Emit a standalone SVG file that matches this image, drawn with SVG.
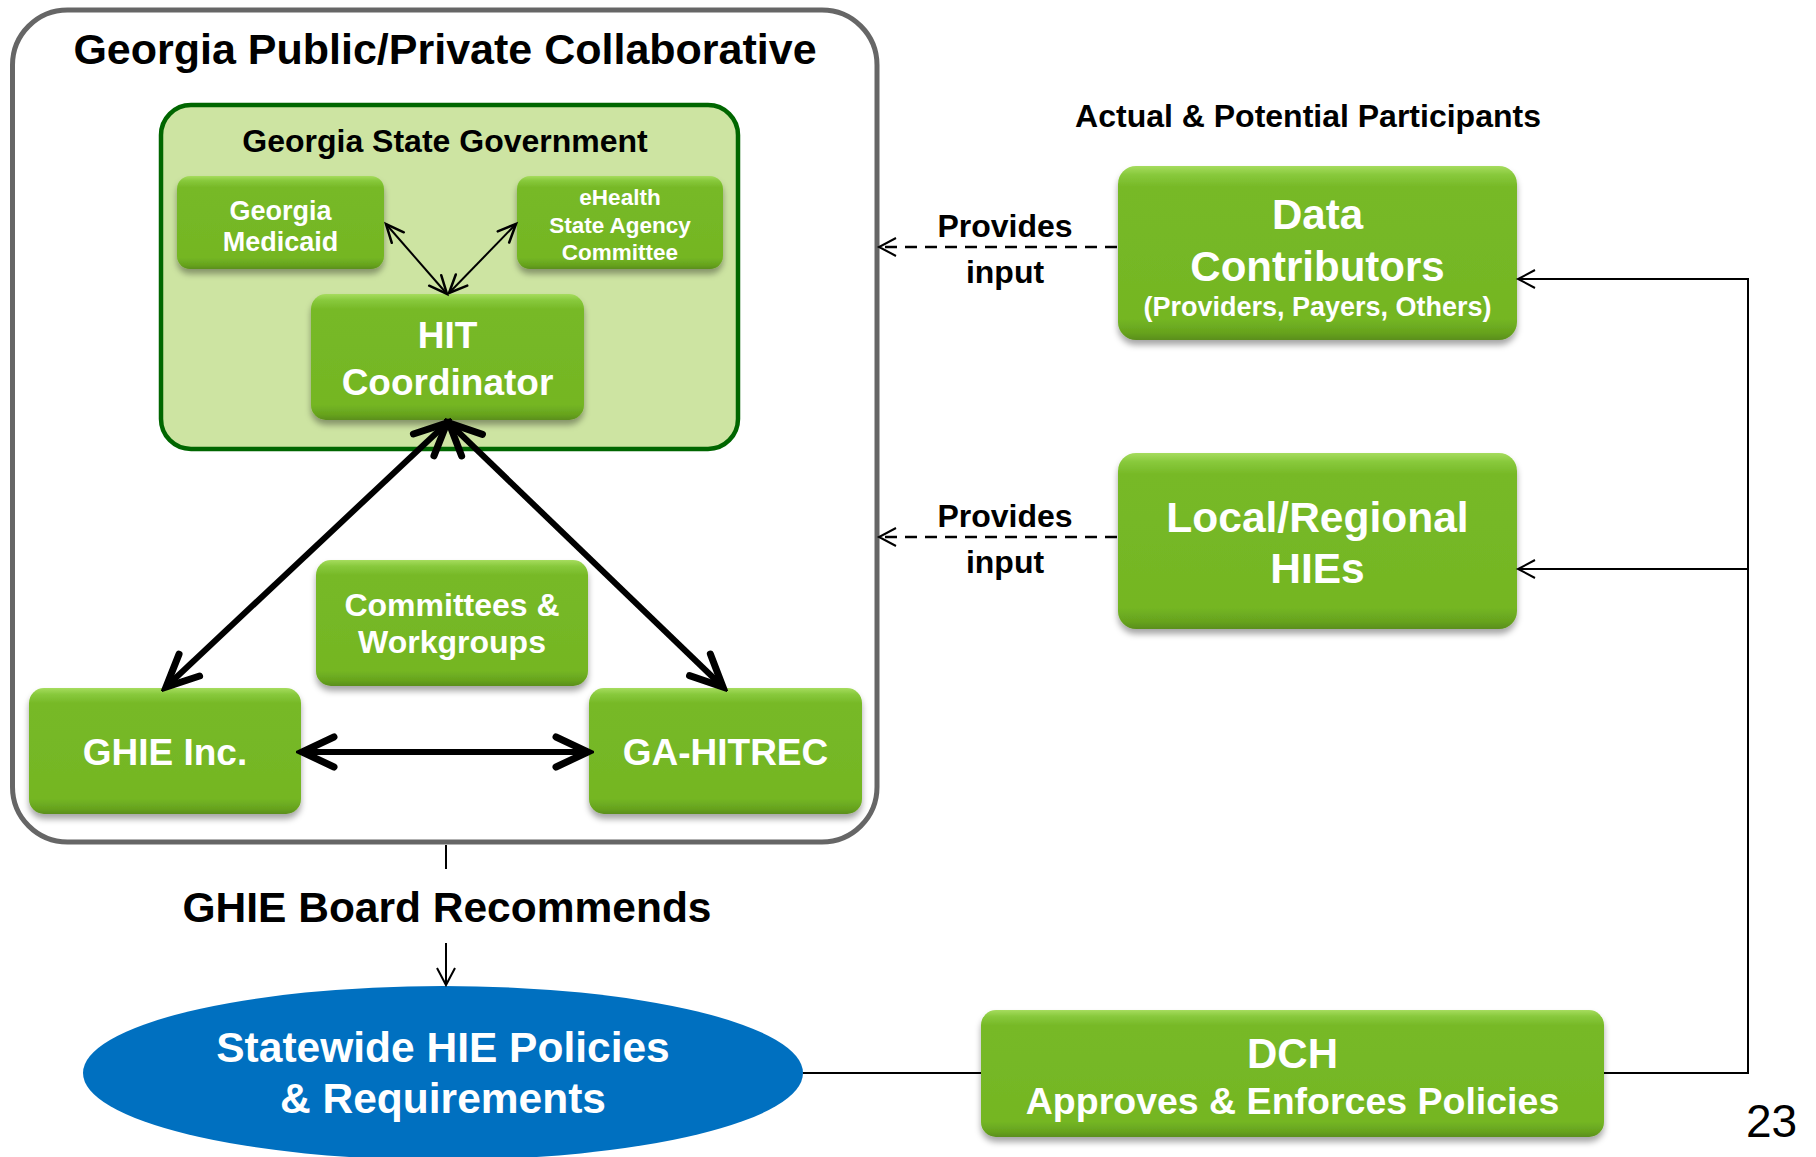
<svg xmlns="http://www.w3.org/2000/svg" width="1816" height="1157" viewBox="0 0 1816 1157">
<style>
  text { font-family: "Liberation Sans", Arial, sans-serif; font-weight: bold; text-anchor: middle; }
  .w { fill: #ffffff; }
  .k { fill: #000000; }
  .gbox { fill: url(#gg); filter: url(#sh); }
  .thin { fill: none; stroke: #000; stroke-width: 2; }
  .thick { fill: none; stroke: #000; stroke-width: 6; }
  .dash { fill: none; stroke: #000; stroke-width: 2.5; stroke-dasharray: 12 8; }
</style>
<defs>
  <linearGradient id="gg" x1="0" y1="0" x2="0" y2="1">
    <stop offset="0" stop-color="#a6dc5e"/>
    <stop offset="0.05" stop-color="#88c93c"/>
    <stop offset="0.12" stop-color="#77b927"/>
    <stop offset="0.88" stop-color="#74b623"/>
    <stop offset="0.96" stop-color="#66a21e"/>
    <stop offset="1" stop-color="#5a8e1a"/>
  </linearGradient>
  <filter id="sh" x="-10%" y="-10%" width="120%" height="130%">
    <feDropShadow dx="0" dy="5" stdDeviation="3" flood-color="#000" flood-opacity="0.35"/>
  </filter>
  <marker id="big" markerUnits="userSpaceOnUse" viewBox="-40 -20 46 40" markerWidth="46" markerHeight="40" refX="0" refY="0" orient="auto-start-reverse">
    <path d="M -32,-15 L 0,0 L -32,15" fill="none" stroke="#000" stroke-width="7" stroke-linecap="round" stroke-linejoin="miter"/>
  </marker>
  <marker id="sm" markerUnits="userSpaceOnUse" viewBox="-24 -12 28 24" markerWidth="28" markerHeight="24" refX="0" refY="0" orient="auto-start-reverse">
    <path d="M -18,-8 L 0,0 L -18,8" fill="none" stroke="#000" stroke-width="2.5" stroke-linecap="round"/>
  </marker>
  <marker id="open" markerUnits="userSpaceOnUse" viewBox="-24 -12 28 24" markerWidth="28" markerHeight="24" refX="0" refY="0" orient="auto">
    <path d="M -17,-9 L 0,0 L -17,9" fill="none" stroke="#000" stroke-width="2"/>
  </marker>
</defs>
<rect width="1816" height="1157" fill="#ffffff"/>

<g id="collaborative">
  <rect x="12.5" y="10" width="864.5" height="832" rx="55" fill="#ffffff" stroke="#666666" stroke-width="5"/>
  <text x="445" y="64" font-size="43" class="k">Georgia Public/Private Collaborative</text>
</g>

<g id="state-government">
  <rect x="161" y="105" width="577" height="344" rx="30" fill="#cde4a2" stroke="#006600" stroke-width="4.5"/>
  <text x="445" y="152" font-size="32" class="k">Georgia State Government</text>
</g>

<g id="medicaid">
  <rect class="gbox" x="177" y="176" width="207" height="93" rx="13"/>
  <text x="280.5" y="220" font-size="27" class="w">Georgia</text>
  <text x="280.5" y="251" font-size="27" class="w">Medicaid</text>
</g>

<g id="ehealth">
  <rect class="gbox" x="517" y="176" width="206" height="93" rx="13"/>
  <text x="620" y="205" font-size="22.5" class="w">eHealth</text>
  <text x="620" y="233" font-size="22.5" class="w">State Agency</text>
  <text x="620" y="260" font-size="22.5" class="w">Committee</text>
</g>

<g id="hit-coordinator">
  <rect class="gbox" x="311" y="294" width="273" height="126" rx="15"/>
  <text x="447.5" y="348" font-size="37" class="w">HIT</text>
  <text x="447.5" y="395" font-size="37" class="w">Coordinator</text>
</g>

<g id="committees">
  <rect class="gbox" x="316" y="560" width="272" height="126" rx="15"/>
  <text x="452" y="616" font-size="32" class="w">Committees &amp;</text>
  <text x="452" y="653" font-size="32" class="w">Workgroups</text>
</g>

<g id="ghie-inc">
  <rect class="gbox" x="29" y="688" width="272" height="126" rx="15"/>
  <text x="165" y="765" font-size="37" class="w">GHIE Inc.</text>
</g>

<g id="ga-hitrec">
  <rect class="gbox" x="589" y="688" width="273" height="126" rx="15"/>
  <text x="725.5" y="765" font-size="37" class="w">GA-HITREC</text>
</g>

<g id="participants-label">
  <text x="1308" y="127" font-size="32" class="k">Actual &amp; Potential Participants</text>
</g>

<g id="data-contributors">
  <rect class="gbox" x="1118" y="166" width="399" height="174" rx="18"/>
  <text x="1317.5" y="229" font-size="42" class="w">Data</text>
  <text x="1317.5" y="281" font-size="42" class="w">Contributors</text>
  <text x="1317.5" y="316" font-size="27" class="w">(Providers, Payers, Others)</text>
</g>

<g id="local-hies">
  <rect class="gbox" x="1118" y="453" width="399" height="176" rx="18"/>
  <text x="1317.5" y="532" font-size="42.5" class="w">Local/Regional</text>
  <text x="1317.5" y="583" font-size="42.5" class="w">HIEs</text>
</g>

<g id="policies">
  <ellipse cx="443" cy="1073" rx="360" ry="87" fill="#0070c0"/>
  <text x="443" y="1062" font-size="42.5" class="w">Statewide HIE Policies</text>
  <text x="443" y="1113" font-size="42.5" class="w">&amp; Requirements</text>
</g>

<g id="dch">
  <rect class="gbox" x="981" y="1010" width="623" height="127" rx="15"/>
  <text x="1292.5" y="1068" font-size="42" class="w">DCH</text>
  <text x="1292.5" y="1114" font-size="37.5" class="w">Approves &amp; Enforces Policies</text>
</g>

<g id="connectors">
  <line class="thin" x1="447" y1="294" x2="386" y2="224" stroke-width="2.5" marker-start="url(#sm)" marker-end="url(#sm)"/>
  <line class="thin" x1="449" y1="293" x2="516" y2="224" stroke-width="2.5" marker-start="url(#sm)" marker-end="url(#sm)"/>
  <line class="thick" x1="447" y1="423" x2="166" y2="687" marker-start="url(#big)" marker-end="url(#big)"/>
  <line class="thick" x1="449" y1="423" x2="723" y2="687" marker-start="url(#big)" marker-end="url(#big)"/>
  <line class="thick" x1="302" y1="752" x2="588" y2="752" marker-start="url(#big)" marker-end="url(#big)"/>
  <line class="dash" x1="1117" y1="247" x2="879" y2="247" marker-end="url(#open)"/>
  <line class="dash" x1="1117" y1="537" x2="879" y2="537" marker-end="url(#open)"/>
  <line class="thin" x1="446" y1="845" x2="446" y2="869"/>
  <line class="thin" x1="446" y1="943" x2="446" y2="985" marker-end="url(#open)"/>
  <line class="thin" x1="803" y1="1073" x2="981" y2="1073" stroke-width="2.5"/>
  <polyline class="thin" points="1604,1073 1748,1073 1748,279 1518,279" stroke-width="2.5" marker-end="url(#open)"/>
  <line class="thin" x1="1748" y1="569" x2="1518" y2="569" marker-end="url(#open)"/>
</g>

<g id="labels">
  <text x="1005" y="237" font-size="32" class="k">Provides</text>
  <text x="1005" y="283" font-size="32" class="k">input</text>
  <text x="1005" y="527" font-size="32" class="k">Provides</text>
  <text x="1005" y="573" font-size="32" class="k">input</text>
  <text x="447" y="922" font-size="42.5" class="k">GHIE Board Recommends</text>
  <text x="1746" y="1137" font-size="46" style="font-weight:normal;text-anchor:start">23</text>
</g>
</svg>
